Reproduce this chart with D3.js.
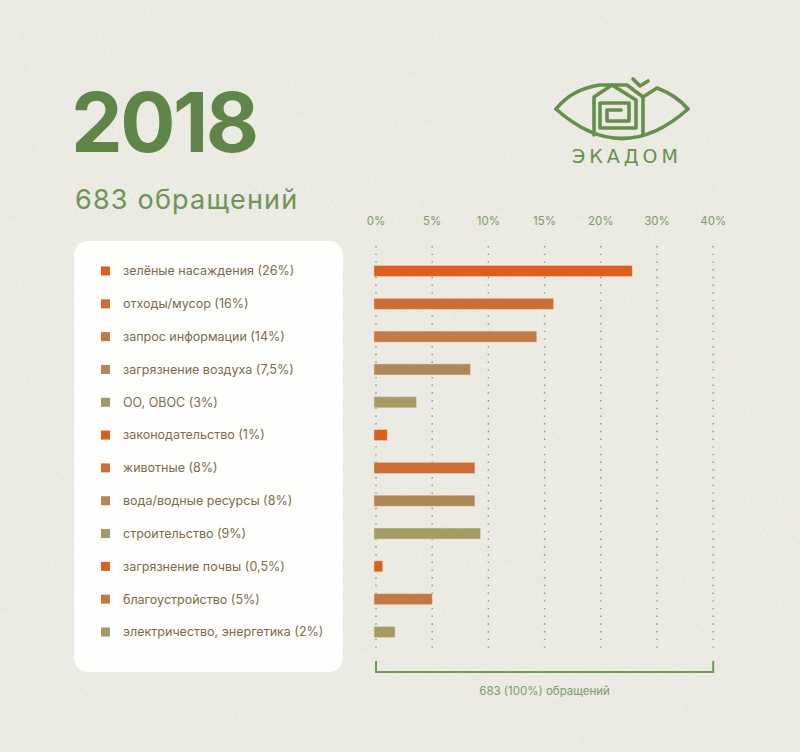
<!DOCTYPE html>
<html>
<head>
<meta charset="utf-8">
<script src="https://cdn.jsdelivr.net/npm/d3@7"></script>
<style>
  html, body { margin: 0; padding: 0; background: #ecebe4; }
  svg { display: block; }
</style>
</head>
<body>
<div id="chart"></div>
<script>
// categories and the shares printed in the legend
const categories = [
  "зелёные насаждения",
  "отходы/мусор",
  "запрос информации",
  "загрязнение воздуха",
  "ОО, ОВОС",
  "законодательство",
  "животные",
  "вода/водные ресурсы",
  "строительство",
  "загрязнение почвы",
  "благоустройство",
  "электричество, энергетика"
];
const shares = [26, 16, 14, 7.5, 3, 1, 8, 8, 9, 0.5, 5, 2];
// bar lengths as they are drawn in the picture (read against the axis)
const barValues = [25.6, 15.8, 14.3, 8.4, 3.6, 1.0, 8.8, 8.8, 9.3, 0.6, 5, 1.7];
// axis ticks (unevenly spaced values, evenly spaced on the page)
const ticks = [0, 5, 10, 15, 20, 30, 40];
const totalCount = 683;
const year = "2018";

// colour per row
const palette = ["#d9601f", "#cb6d34", "#c17946", "#b08757", "#a39a66"];
const rowColor = [0, 1, 2, 3, 4, 0, 1, 3, 4, 0, 2, 4];

const width = 800;
const height = 752;

const svg = d3.select("#chart")
  .append("svg")
  .attr("width", width)
  .attr("height", height);

// paper-ish background
const defs = svg.append("defs");
const paper = defs.append("filter").attr("id", "paper")
  .attr("x", 0).attr("y", 0).attr("width", "100%").attr("height", "100%");
paper.append("feTurbulence")
  .attr("type", "fractalNoise")
  .attr("baseFrequency", "0.9 0.25")
  .attr("numOctaves", 3)
  .attr("seed", 4);
paper.append("feColorMatrix")
  .attr("values", "0 0 0 0 0.55  0 0 0 0 0.53  0 0 0 0 0.48  0 0 0 -1.6 0.9");

svg.append("rect")
  .attr("width", width).attr("height", height)
  .attr("fill", "#ecebe4");
svg.append("rect")
  .attr("width", width).attr("height", height)
  .attr("filter", "url(#paper)")
  .attr("opacity", 0.2);

const font = "Inter, 'Noto Sans', sans-serif";

// title
svg.append("text")
  .attr("x", 71).attr("y", 152)
  .attr("font-family", font)
  .attr("font-size", 82)
  .attr("font-weight", 700)
  .attr("letter-spacing", -2.5)
  .attr("fill", "#5f8549")
  .text(year);

svg.append("text")
  .attr("x", 75).attr("y", 209)
  .attr("font-family", font)
  .attr("font-size", 27)
  .attr("letter-spacing", 1.2)
  .attr("fill", "#6f9457")
  .text(`${totalCount} обращений`);

// scales
const x = d3.scaleLinear()
  .domain(ticks)
  .range(ticks.map((d, i) => 376 + i * 56.2));

const y = d3.scalePoint()
  .domain(categories)
  .range([271, 632]);

// legend card
svg.append("rect")
  .attr("x", 74).attr("y", 241)
  .attr("width", 269).attr("height", 431)
  .attr("rx", 14)
  .attr("fill", "#fefefd");

const legend = svg.append("g")
  .selectAll("g")
  .data(categories)
  .join("g")
  .attr("transform", d => `translate(0,${y(d)})`);

legend.append("rect")
  .attr("x", 101).attr("y", -4.5)
  .attr("width", 9).attr("height", 9)
  .attr("fill", (d, i) => palette[rowColor[i]]);

legend.append("text")
  .attr("x", 123).attr("dy", "0.35em")
  .attr("font-family", font)
  .attr("font-size", 12.5)
  .attr("fill", "#7a6c4c")
  .text((d, i) => `${d} (${String(shares[i]).replace(".", ",")}%)`);

// dotted grid
svg.append("g")
  .selectAll("line")
  .data(ticks)
  .join("line")
  .attr("x1", d => x(d)).attr("x2", d => x(d))
  .attr("y1", 246).attr("y2", 652)
  .attr("stroke", "#7f9c62")
  .attr("stroke-width", 1.4)
  .attr("stroke-dasharray", "1.4 6.3");

// top axis labels
svg.append("g")
  .selectAll("text")
  .data(ticks)
  .join("text")
  .attr("x", d => x(d)).attr("y", 225)
  .attr("text-anchor", "middle")
  .attr("font-family", font)
  .attr("font-size", 11.5)
  .attr("fill", "#7f9b69")
  .text(d => `${d}%`);

// bars
svg.append("g")
  .selectAll("rect")
  .data(categories)
  .join("rect")
  .attr("x", x(0) - 2)
  .attr("y", d => y(d) - 5.5)
  .attr("width", (d, i) => x(barValues[i]) - x(0) + 2)
  .attr("height", 11)
  .attr("fill", (d, i) => palette[rowColor[i]])
  .attr("stroke", "#f1d9c4")
  .attr("stroke-opacity", 0.6)
  .attr("stroke-width", 0.8);

// bracket below the grid
const bx0 = x(ticks[0]);
const bx1 = x(ticks[ticks.length - 1]);
svg.append("path")
  .attr("d", `M${bx0},661V672H${bx1}V661`)
  .attr("fill", "none")
  .attr("stroke", "#6f9a5a")
  .attr("stroke-width", 2);

svg.append("text")
  .attr("x", (bx0 + bx1) / 2).attr("y", 695)
  .attr("text-anchor", "middle")
  .attr("font-family", font)
  .attr("font-size", 11.5)
  .attr("fill", "#7f9b69")
  .text(`${totalCount} (100%) обращений`);

// logo
const logo = svg.append("g")
  .attr("fill", "none")
  .attr("stroke", "#65904c")
  .attr("stroke-width", 3.6)
  .attr("stroke-linejoin", "round")
  .attr("stroke-linecap", "round");

// eye: upper-left lid runs into the roof, lower lid, upper-right lid
logo.append("path").attr("d", "M556,109 Q572,89 600,85 L627,85 L643,97");
logo.append("path").attr("d", "M556,109 Q622,168 688,109");
logo.append("path").attr("d", "M643,97 L657,88 Q676,95 688,109");
// house wall on the right
logo.append("path").attr("d", "M643,97 V134");
// house outline spiralling inwards
logo.append("path").attr("d", "M594,135 V97 L612,85 L636,100 V128 H600 V103 H629 V121 H607 V110 H621");
// check mark above the roof
logo.append("path").attr("d", "M633,79 L640,86 L648,81");

svg.append("text")
  .attr("x", 572).attr("y", 163)
  .attr("font-family", "'DejaVu Sans', sans-serif")
  .attr("font-size", 19)
  .attr("letter-spacing", 4)
  .attr("fill", "#65904c")
  .text("ЭКАДОМ");
</script>
</body>
</html>
